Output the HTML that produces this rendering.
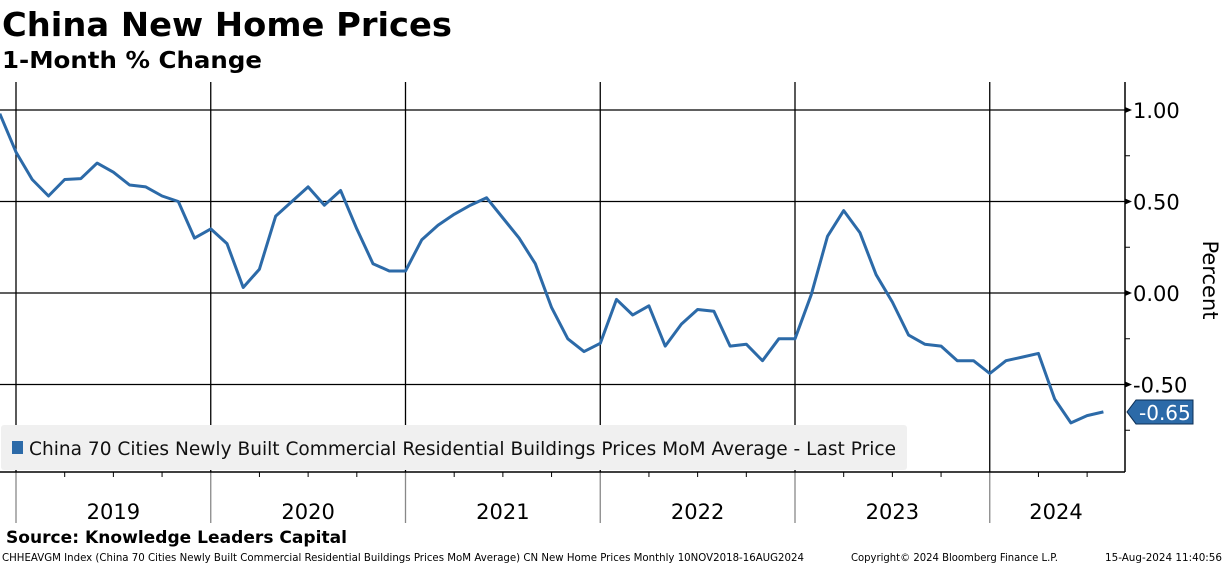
<!DOCTYPE html>
<html><head><meta charset="utf-8"><style>
body{margin:0;background:#fff;width:1224px;height:565px;overflow:hidden;font-family:"DejaVu Sans","Liberation Sans",sans-serif}
svg{display:block}
</style></head><body>
<svg id="c" width="1224" height="565" xmlns="http://www.w3.org/2000/svg">
<text x="2" y="36" font-size="33" font-weight="bold" fill="#000" textLength="450" lengthAdjust="spacingAndGlyphs">China New Home Prices</text>
<text x="2" y="68" font-size="23" font-weight="bold" fill="#000" textLength="260" lengthAdjust="spacingAndGlyphs">1-Month % Change</text>
<g id="grid"></g>
<rect x="1" y="425" width="906" height="45" rx="3" fill="#f0f0f0"/>
<rect x="12" y="441" width="11" height="13" fill="#2c6aa8"/>
<text x="29" y="455" font-size="19" fill="#111" textLength="867" lengthAdjust="spacingAndGlyphs">China 70 Cities Newly Built Commercial Residential Buildings Prices MoM Average - Last Price</text>
<g id="axes"></g>
<path id="line" fill="none" stroke="#2c6aa8" stroke-width="3" stroke-linejoin="round"/>
<g id="lastlabel"></g>
<text x="1203" y="280" font-size="21" fill="#000" transform="rotate(90 1203 280)" text-anchor="middle">Percent</text>
<text x="6" y="543" font-size="17" font-weight="bold" fill="#000" textLength="341" lengthAdjust="spacingAndGlyphs">Source: Knowledge Leaders Capital</text>
<text x="2" y="561" font-size="10.5" fill="#000" textLength="802" lengthAdjust="spacingAndGlyphs">CHHEAVGM Index (China 70 Cities Newly Built Commercial Residential Buildings Prices MoM Average) CN New Home Prices  Monthly 10NOV2018-16AUG2024</text>
<text x="851" y="561" font-size="10.5" fill="#000" textLength="207" lengthAdjust="spacingAndGlyphs">Copyright© 2024 Bloomberg Finance L.P.</text>
<text x="1105" y="561" font-size="10.5" fill="#000" textLength="117" lengthAdjust="spacingAndGlyphs">15-Aug-2024 11:40:56</text>
</svg>
<script>
const years = ["2019","2020","2021","2022","2023","2024"];
const yTicks = [1.00, 0.50, 0.00, -0.50];
const yTickLabels = ["1.00","0.50","0.00","-0.50"];
const startMonthIndex = -1;
const values = [0.98,0.77,0.62,0.53,0.62,0.625,0.71,0.66,0.59,0.58,0.53,0.50,
0.30,0.35,0.27,0.03,0.13,0.42,0.50,0.58,0.48,0.56,0.35,0.16,0.12,0.12,
0.29,0.37,0.43,0.48,0.52,0.41,0.30,0.16,-0.08,-0.25,-0.32,
-0.275,-0.035,-0.12,-0.07,-0.29,-0.17,-0.09,-0.10,-0.29,-0.28,-0.37,-0.25,-0.25,
-0.01,0.31,0.45,0.33,0.10,-0.05,-0.23,-0.28,-0.29,-0.37,-0.37,
-0.44,-0.37,-0.35,-0.33,-0.58,-0.71,-0.67,-0.65];
const lastValue = values[values.length-1];

const X0=16, MW=194.75/12, PB=472, AX=1125;
const xm = i => X0 + i*MW;
const yv = v => 293 - v*183;
const NS="http://www.w3.org/2000/svg";
function mk(t,a,p){const e=document.createElementNS(NS,t);for(const k in a)e.setAttribute(k,a[k]);p.appendChild(e);return e;}
const grid=document.getElementById('grid'), axes=document.getElementById('axes');
yTicks.forEach((v,i)=>{
  const l=mk('line',{x1:0,x2:AX,y1:yv(v),y2:yv(v),stroke:'#000','stroke-width':1.3},grid);
  
  
  const a=mk('path',{d:`M${AX} ${yv(v)-3}L${AX+7} ${yv(v)}L${AX} ${yv(v)+3}Z`,fill:'#000'},axes);
  
  
  const t=mk('text',{x:AX+8,y:yv(v)+8,'font-size':21,fill:'#000'},axes);
  t.textContent=yTickLabels[i];
  
  
});
for(let v=0.75;v>-0.9;v-=0.5){
  const m=mk('line',{x1:AX,x2:AX+5,y1:yv(v),y2:yv(v),stroke:'#000'},axes);
  
  
}
years.forEach((y,i)=>{
  const x=xm(i*12);
  const g=mk('line',{x1:x,x2:x,y1:82,y2:PB,stroke:'#000','stroke-width':1.3},grid);
  
  
  const s=mk('line',{x1:x,x2:x,y1:PB,y2:523,stroke:'#888','stroke-width':1.3},axes);
  
  
  for(let q=1;q<4;q++){const mx=xm(i*12+q*3);if(mx<AX){
    const t=mk('line',{x1:mx,x2:mx,y1:PB,y2:PB+5,stroke:'#000'},axes);
    
    }}
  const lt=mk('text',{x:Math.min(xm(i*12+6),1056),y:519,'font-size':21,'text-anchor':'middle',fill:'#000'},axes);
  lt.textContent=y;
  
  
});
const bl=mk('line',{x1:0,x2:AX,y1:PB,y2:PB,stroke:'#000','stroke-width':1.5},axes);


const ra=mk('line',{x1:AX,x2:AX,y1:82,y2:PB,stroke:'#000','stroke-width':1.5},axes);


document.getElementById('line').setAttribute('d',values.map((v,i)=>(i?'L':'M')+xm(startMonthIndex+i).toFixed(1)+' '+yv(v).toFixed(1)).join(''));
const ll=document.getElementById('lastlabel'), ly=yv(lastValue);
mk('path',{d:`M1127 ${ly}L1136 ${ly-12}H1193V${ly+12}H1136Z`,fill:'#2c6aa8',stroke:'#0d2f55'},ll);
const lt=mk('text',{x:1139,y:ly+8,'font-size':20,fill:'#fff'},ll);
lt.textContent=lastValue.toFixed(2);


</script>
</body></html>
